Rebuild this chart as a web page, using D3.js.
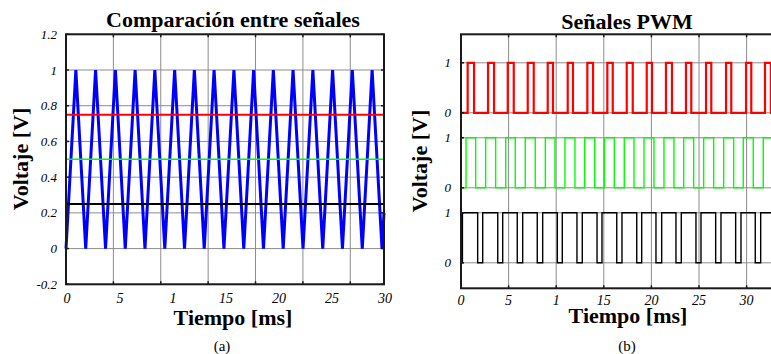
<!DOCTYPE html>
<html><head><meta charset="utf-8">
<script src="https://cdn.jsdelivr.net/npm/d3@7"></script>
<style>body{margin:0;background:#fff}svg{display:block}text{font-family:"Liberation Serif","Times New Roman",serif}</style>
</head><body>
<svg id="c" width="771" height="354"></svg>
<script>
// ---------- data: panel (a) ----------
const triTime = [0,0.93,1.86,2.79,3.73,4.66,5.59,6.52,7.45,8.38,9.32,10.25,11.18,12.11,13.04,13.97,14.90,15.84,16.77,17.70,18.63,19.56,20.49,21.42,22.36,23.29,24.22,25.15,26.08,27.01,27.95,28.88,29.81,30];
const triVolt = [0,1,0,1,0,1,0,1,0,1,0,1,0,1,0,1,0,1,0,1,0,1,0,1,0,1,0,1,0,1,0,1,0,0.2];
const refLevels = [0.75, 0.5, 0.25];
const refColors = ["#ff0000", "#00ff00", "#000000"];
const aYTicks = [-0.2, 0, 0.2, 0.4, 0.6, 0.8, 1, 1.2];
const aYLabels = ["-0.2","0","0.2","0.4","0.6","0.8","1","1.2"];
const aXTicks = [0, 5, 10, 15, 20, 25, 30];
const aXLabels = ["0","5","1","15","20","25","30"];
const aXGrid = [4.47, 8.94, 13.41, 17.88, 22.35, 26.82];

// ---------- data: panel (b) ----------
const redEdges = [0.70,1.37,2.84,3.47,4.91,5.54,7.01,7.64,9.11,9.66,11.21,11.76,13.27,13.87,15.37,15.94,17.41,18.04,19.51,20.06,21.53,22.16,23.63,24.19,25.74,26.29,27.84,28.39,29.94,30.49,31.93,32.55];
const greenEdges = [0.53,1.54,2.59,3.64,4.70,5.70,6.75,7.80,8.86,9.87,10.92,11.97,12.99,14.04,15.05,16.10,17.15,18.17,19.22,20.27,21.32,22.37,23.39,24.44,25.49,26.54,27.59,28.64,29.65,30.70,31.75,32.80];
const blackEdges = [0.15,1.75,2.28,3.86,4.38,5.91,6.48,8.01,8.58,10.12,10.64,12.18,12.74,14.29,14.81,16.36,16.91,18.46,18.98,20.48,21.08,22.58,23.14,24.68,25.21,26.75,27.31,28.85,29.41,30.91,31.48,33.00];
const pwmBase = [3, 1.5, 0];          // vertical offset of each trace (red, green, black)
const pwmColors = ["#ff0000", "#00ff00", "#000000"];
const pwmWidths = [2.2, 1.4, 1.4];
const bYTicks = [0, 1, 1.5, 2.5, 3, 4];
const bYLabels = ["0","1","0","1","0","1"];
const bXTicks = [0, 5, 10, 15, 20, 25, 30];
const bXLabels = ["0","5","1","15","20","25","30"];
const bXGrid = [5, 10, 15, 20, 25, 30, 35];

const svg = d3.select("#c");
svg.append("rect").attr("width",771).attr("height",354).attr("fill","#fff");
const gridCol = "#8c8c8c", frameCol = "#1a1a1a";

// ================= Panel (a) =================
const ax = d3.scaleLinear().domain([0,30]).range([66,384]);
const ay = d3.scaleLinear().domain([-0.2,1.2]).range([284.3,34.3]);
const ga = svg.append("g");
ga.selectAll(".gy").data(aYTicks).join("line")
  .attr("x1",ax(0)).attr("x2",ax(30)).attr("y1",d=>ay(d)).attr("y2",d=>ay(d))
  .attr("stroke",gridCol).attr("stroke-width",1);
ga.selectAll(".gx").data(aXGrid).join("line")
  .attr("x1",d=>ax(d)).attr("x2",d=>ax(d)).attr("y1",ay(-0.2)).attr("y2",ay(1.2))
  .attr("stroke",gridCol).attr("stroke-width",1);
const triPts = triTime.map((t,i)=>[t,triVolt[i]]);
ga.append("path").datum(triPts)
  .attr("d", d3.line().x(d=>ax(d[0])).y(d=>ay(d[1])))
  .attr("fill","none").attr("stroke","#0000ff").attr("stroke-width",3).attr("stroke-linejoin","miter");
refLevels.forEach((v,i)=>{
  ga.append("line").attr("x1",ax(0)).attr("x2",ax(30)).attr("y1",ay(v)).attr("y2",ay(v))
    .attr("stroke",refColors[i]).attr("stroke-width",i===1?1.6:2);
});
aXGrid.forEach(d=>{
  ga.append("line").attr("x1",ax(d)).attr("x2",ax(d)).attr("y1",ay(-0.2)).attr("y2",ay(-0.2)-3).attr("stroke",frameCol).attr("stroke-width",1.5);
  ga.append("line").attr("x1",ax(d)).attr("x2",ax(d)).attr("y1",ay(1.2)).attr("y2",ay(1.2)+3).attr("stroke",frameCol).attr("stroke-width",1.5);
});
aYTicks.forEach(d=>{
  ga.append("line").attr("x1",ax(0)).attr("x2",ax(0)+3).attr("y1",ay(d)).attr("y2",ay(d)).attr("stroke",frameCol).attr("stroke-width",1.5);
  ga.append("line").attr("x1",ax(30)).attr("x2",ax(30)-3).attr("y1",ay(d)).attr("y2",ay(d)).attr("stroke",frameCol).attr("stroke-width",1.5);
});
ga.append("rect").attr("x",ax(0)).attr("y",ay(1.2)).attr("width",ax(30)-ax(0)).attr("height",ay(-0.2)-ay(1.2))
  .attr("fill","none").attr("stroke",frameCol).attr("stroke-width",2);
ga.selectAll(".yl").data(aYTicks).join("text")
  .attr("x",57).attr("y",d=>ay(d)+4.5).attr("text-anchor","end")
  .attr("font-size",13).attr("font-style","italic").text((d,i)=>aYLabels[i]);
ga.selectAll(".xl").data(aXTicks).join("text")
  .attr("x",d=>ax(d)+1).attr("y",303).attr("text-anchor","middle")
  .attr("font-size",14).attr("font-style","italic").text((d,i)=>aXLabels[i]);
ga.append("text").attr("x",233).attr("y",27).attr("text-anchor","middle")
  .attr("font-size",22).attr("font-weight","bold").text("Comparación entre señales");
ga.append("text").attr("x",233).attr("y",325).attr("text-anchor","middle")
  .attr("font-size",22).attr("font-weight","bold").text("Tiempo [ms]");
ga.append("text").attr("transform","translate(28,159) rotate(-90)").attr("text-anchor","middle")
  .attr("font-size",22).attr("font-weight","bold").text("Voltaje [V]");
ga.append("text").attr("x",222).attr("y",351).attr("text-anchor","middle")
  .attr("font-size",15).text("(a)");

// ================= Panel (b) =================
const bx = d3.scaleLinear().domain([0,35]).range([461,794.2]);
const by = d3.scaleLinear().domain([-0.51,4.57]).range([288.3,34.3]);
const gb = svg.append("g");
gb.selectAll(".gy").data(bYTicks).join("line")
  .attr("x1",bx(0)).attr("x2",bx(35)).attr("y1",d=>by(d)).attr("y2",d=>by(d))
  .attr("stroke",gridCol).attr("stroke-width",1);
gb.selectAll(".gx").data(bXGrid).join("line")
  .attr("x1",d=>bx(d)).attr("x2",d=>bx(d)).attr("y1",by(-0.51)).attr("y2",by(4.57))
  .attr("stroke",gridCol).attr("stroke-width",1);
[redEdges, greenEdges, blackEdges].forEach((edges,k)=>{
  const pts = [[0,0]];
  let v = 0;
  edges.forEach(t=>{ pts.push([t,v]); v = 1-v; pts.push([t,v]); });
  pts.push([35,v]);
  gb.append("path").datum(pts)
    .attr("d", d3.line().x(d=>bx(d[0])).y(d=>by(d[1]+pwmBase[k])))
    .attr("fill","none").attr("stroke",pwmColors[k]).attr("stroke-width",pwmWidths[k]).attr("stroke-linejoin","miter");
});
bXGrid.forEach(d=>{
  gb.append("line").attr("x1",bx(d)).attr("x2",bx(d)).attr("y1",by(-0.51)).attr("y2",by(-0.51)-3).attr("stroke",frameCol).attr("stroke-width",1.5);
  gb.append("line").attr("x1",bx(d)).attr("x2",bx(d)).attr("y1",by(4.57)).attr("y2",by(4.57)+3).attr("stroke",frameCol).attr("stroke-width",1.5);
});
bYTicks.forEach(d=>{
  gb.append("line").attr("x1",bx(0)).attr("x2",bx(0)+3).attr("y1",by(d)).attr("y2",by(d)).attr("stroke",frameCol).attr("stroke-width",1.5);
});
gb.append("rect").attr("x",bx(0)).attr("y",by(4.57)).attr("width",bx(35)-bx(0)).attr("height",by(-0.51)-by(4.57))
  .attr("fill","none").attr("stroke",frameCol).attr("stroke-width",2);
gb.selectAll(".yl").data(bYTicks).join("text")
  .attr("x",451).attr("y",d=>by(d)+4.5).attr("text-anchor","end")
  .attr("font-size",13).attr("font-style","italic").text((d,i)=>bYLabels[i]);
gb.selectAll(".xl").data(bXTicks).join("text")
  .attr("x",d=>bx(d)).attr("y",305).attr("text-anchor","middle")
  .attr("font-size",14).attr("font-style","italic").text((d,i)=>bXLabels[i]);
gb.append("text").attr("x",627).attr("y",29).attr("text-anchor","middle")
  .attr("font-size",22).attr("font-weight","bold").text("Señales PWM");
gb.append("text").attr("x",628).attr("y",323).attr("text-anchor","middle")
  .attr("font-size",22).attr("font-weight","bold").text("Tiempo [ms]");
gb.append("text").attr("transform","translate(427,161) rotate(-90)").attr("text-anchor","middle")
  .attr("font-size",22).attr("font-weight","bold").text("Voltaje [V]");
gb.append("text").attr("x",627).attr("y",351).attr("text-anchor","middle")
  .attr("font-size",15).text("(b)");
</script>
</body></html>
